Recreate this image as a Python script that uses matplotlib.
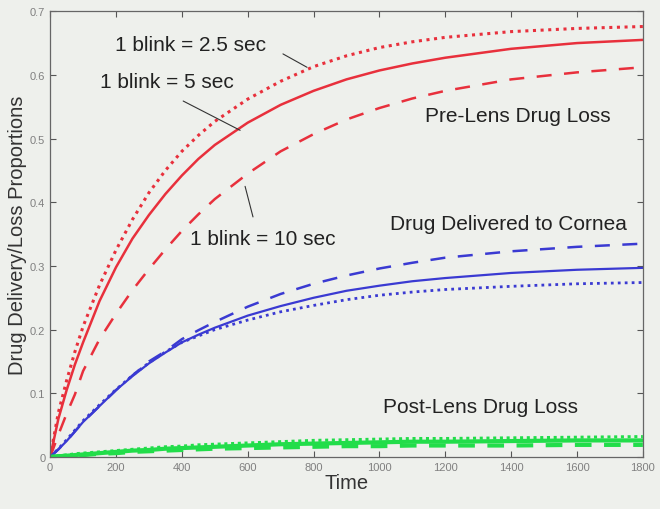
import matplotlib
matplotlib.use("Agg")
import matplotlib.pyplot as plt

plt.rcParams['font.family'] = ['Liberation Sans', 'DejaVu Sans']

time = [0, 25, 50, 75, 100, 150, 200, 250, 300, 350, 400, 450, 500, 600, 700, 800, 900, 1000, 1100, 1200, 1400, 1600, 1800]

pre_2p5 = [0, 0.07, 0.12, 0.165, 0.205, 0.27, 0.325, 0.373, 0.415, 0.45, 0.48, 0.505, 0.527, 0.562, 0.59, 0.613, 0.63, 0.643, 0.652, 0.659, 0.668, 0.673, 0.676]
pre_5 = [0, 0.06, 0.105, 0.145, 0.18, 0.245, 0.298, 0.343, 0.38, 0.413, 0.442, 0.468, 0.49, 0.525, 0.553, 0.575, 0.593, 0.607, 0.618, 0.627, 0.641, 0.65, 0.655]
pre_10 = [0, 0.035, 0.068, 0.098, 0.135, 0.185, 0.225, 0.262, 0.295, 0.326, 0.355, 0.381, 0.405, 0.445, 0.48, 0.507, 0.53, 0.548, 0.563, 0.575, 0.593, 0.604, 0.612]

cor_2p5 = [0, 0.013, 0.027, 0.042, 0.057, 0.082, 0.106, 0.128, 0.148, 0.165, 0.18, 0.19, 0.2, 0.215, 0.228, 0.238, 0.247, 0.254, 0.259, 0.263, 0.268, 0.272, 0.274]
cor_5 = [0, 0.012, 0.025, 0.04, 0.055, 0.08, 0.105, 0.127, 0.147, 0.164, 0.18, 0.192, 0.203, 0.222, 0.237, 0.25, 0.261, 0.269, 0.276, 0.281, 0.289, 0.294, 0.297]
cor_10 = [0, 0.012, 0.025, 0.04, 0.055, 0.08, 0.105, 0.128, 0.15, 0.166, 0.185, 0.199, 0.212, 0.236, 0.256, 0.272, 0.285, 0.296, 0.305, 0.313, 0.323, 0.33, 0.335]

post_2p5 = [0, 0.002, 0.003, 0.005, 0.006, 0.008, 0.010, 0.012, 0.014, 0.016, 0.017, 0.019, 0.020, 0.022, 0.024, 0.026, 0.027, 0.028, 0.029, 0.029, 0.030, 0.031, 0.032]
post_5 = [0, 0.001, 0.002, 0.003, 0.004, 0.006, 0.008, 0.010, 0.011, 0.013, 0.014, 0.015, 0.016, 0.018, 0.020, 0.021, 0.022, 0.023, 0.024, 0.024, 0.025, 0.026, 0.026]
post_10 = [0, 0.001, 0.002, 0.002, 0.003, 0.005, 0.006, 0.008, 0.009, 0.010, 0.011, 0.012, 0.013, 0.014, 0.015, 0.016, 0.017, 0.017, 0.018, 0.018, 0.018, 0.019, 0.019]

xticks = [0, 200, 400, 600, 800, 1000, 1200, 1400, 1600, 1800]
yticks = [0, 0.1, 0.2, 0.3, 0.4, 0.5, 0.6, 0.7]
ytick_labels = ['0', '0.1', '0.2', '0.3', '0.4', '0.5', '0.6', '0.7']

bg = '#eef0ec'
red = '#e8303c'
blue = '#3a3ad2'
green = '#22dd4a'

fig = plt.figure(figsize=(6.6, 5.1), dpi=100, facecolor=bg)
ax = fig.add_axes([0.076, 0.102, 0.898, 0.874], facecolor=bg)

ax.plot(time, pre_2p5, color=red, lw=2.2, ls=(0, (1, 1.5)))
ax.plot(time, pre_5, color=red, lw=1.8, ls='-')
ax.plot(time, pre_10, color=red, lw=1.8, ls=(0, (6, 5)))

ax.plot(time, cor_2p5, color=blue, lw=2.0, ls=(0, (1, 1.5)))
ax.plot(time, cor_5, color=blue, lw=1.6, ls='-')
ax.plot(time, cor_10, color=blue, lw=1.8, ls=(0, (6, 5)))

ax.plot(time, post_2p5, color=green, lw=2.2, ls=(0, (1, 1.2)))
ax.plot(time, post_5, color=green, lw=3.0, ls='-')
ax.plot(time, post_10, color=green, lw=3.0, ls=(0, (4, 3)))

ax.set_xlim(0, 1800)
ax.set_ylim(0, 0.7)
ax.set_xticks(xticks)
ax.set_xticklabels([str(v) for v in xticks])
ax.set_yticks(yticks)
ax.set_yticklabels(ytick_labels)
ax.tick_params(direction='in', top=True, right=True, length=4, width=0.8,
               labelsize=8, labelcolor='#808080', color='#555555')
for s in ax.spines.values():
    s.set_color('#666666')
    s.set_linewidth(0.9)

ax.set_xlabel('Time', fontsize=14.5, color='#333333', labelpad=1)
ax.set_ylabel('Drug Delivery/Loss Proportions', fontsize=14.5, color='#333333', labelpad=2)

tc = '#222222'
fs = 15
ax.text(1138, 0.537, 'Pre-Lens Drug Loss', fontsize=fs, color=tc, va='center')
ax.text(1032, 0.366, 'Drug Delivered to Cornea', fontsize=fs, color=tc, va='center')
ax.text(1011, 0.080, 'Post-Lens Drug Loss', fontsize=fs, color=tc, va='center')

ax.text(197, 0.648, '1 blink = 2.5 sec', fontsize=fs, color=tc, va='center')
ax.text(152, 0.590, '1 blink = 5 sec', fontsize=fs, color=tc, va='center')
ax.text(425, 0.343, '1 blink = 10 sec', fontsize=fs, color=tc, va='center')

line_kw = dict(arrowstyle='-', color='#333333', lw=0.8, shrinkA=0, shrinkB=0)
ax.annotate('', xy=(780, 0.612), xytext=(707, 0.633), arrowprops=line_kw)
ax.annotate('', xy=(577, 0.513), xytext=(404, 0.559), arrowprops=line_kw)
ax.annotate('', xy=(592, 0.425), xytext=(616, 0.377), arrowprops=line_kw)

fig.savefig('out.png', dpi=100, facecolor=bg)
